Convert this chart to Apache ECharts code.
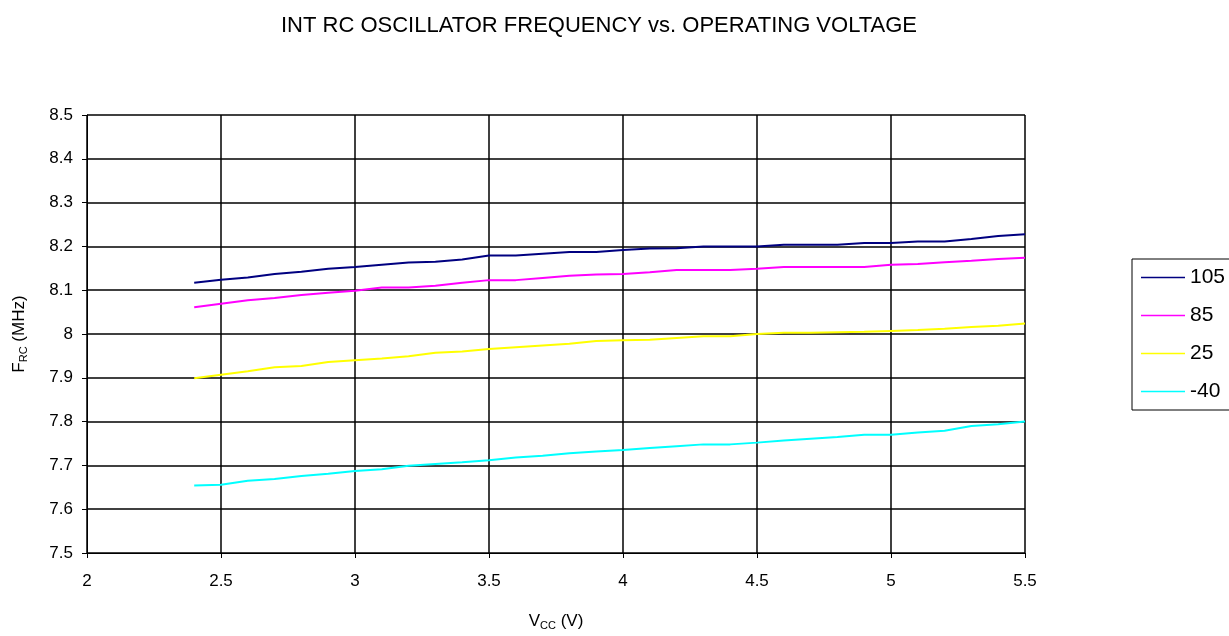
<!DOCTYPE html>
<html>
<head>
<meta charset="utf-8">
<script src="https://cdn.jsdelivr.net/npm/echarts@6/dist/echarts.min.js"></script>
<style>
  html, body { margin: 0; padding: 0; background: #fff; }
  #chart { width: 1229px; height: 636px; }
</style>
</head>
<body>
<div id="chart"></div>
<script>
  // supply voltage (V)
  var vcc = [2.4, 2.5, 2.6, 2.7, 2.8, 2.9, 3.0, 3.1, 3.2, 3.3, 3.4, 3.5, 3.6, 3.7, 3.8, 3.9,
             4.0, 4.1, 4.2, 4.3, 4.4, 4.5, 4.6, 4.7, 4.8, 4.9, 5.0, 5.1, 5.2, 5.3, 5.4, 5.5];
  // frequency (MHz) per temperature
  var f105 = [8.117, 8.124, 8.129, 8.137, 8.142, 8.149, 8.153, 8.158, 8.163, 8.165, 8.170, 8.179,
              8.179, 8.183, 8.187, 8.187, 8.192, 8.195, 8.196, 8.200, 8.200, 8.200, 8.204, 8.204,
              8.204, 8.208, 8.208, 8.211, 8.211, 8.217, 8.224, 8.228];
  var f85 = [8.061, 8.069, 8.077, 8.082, 8.089, 8.094, 8.099, 8.106, 8.106, 8.110, 8.117, 8.123,
             8.123, 8.128, 8.133, 8.136, 8.137, 8.141, 8.146, 8.146, 8.146, 8.149, 8.153, 8.153,
             8.153, 8.153, 8.158, 8.160, 8.164, 8.167, 8.171, 8.174];
  var f25 = [7.899, 7.907, 7.915, 7.924, 7.927, 7.936, 7.940, 7.944, 7.949, 7.957, 7.960, 7.966,
             7.970, 7.974, 7.978, 7.984, 7.986, 7.987, 7.991, 7.995, 7.995, 8.000, 8.003, 8.003,
             8.004, 8.005, 8.007, 8.009, 8.012, 8.016, 8.019, 8.024];
  var fm40 = [7.654, 7.656, 7.665, 7.669, 7.676, 7.681, 7.687, 7.691, 7.699, 7.703, 7.707, 7.712,
              7.718, 7.722, 7.728, 7.732, 7.735, 7.740, 7.744, 7.748, 7.748, 7.752, 7.757, 7.761,
              7.765, 7.770, 7.770, 7.775, 7.779, 7.790, 7.794, 7.800];

  var names = ['105', '85', '25', '-40'];
  var colors = ['#000080', '#FF00FF', '#FFFF00', '#00FFFF'];
  var sets = [f105, f85, f25, fm40];

  function pairs(ys) {
    return vcc.map(function (v, i) { return [v, ys[i]]; });
  }

  var font = 'Liberation Sans, Arial, sans-serif';
  var subRich = {
    a: { fontFamily: font, fontSize: 17, color: '#000' },
    s: { fontFamily: font, fontSize: 11, color: '#000', verticalAlign: 'bottom', padding: [9, 0, 0, 0] }
  };

  var chart = echarts.init(document.getElementById('chart'));
  chart.setOption({
    animation: false,
    color: colors,
    title: {
      text: 'INT RC OSCILLATOR FREQUENCY vs. OPERATING VOLTAGE',
      left: 594,
      textAlign: 'center',
      top: 10,
      textStyle: { fontFamily: font, fontSize: 22, fontWeight: 'normal', color: '#000' }
    },
    legend: {
      orient: 'vertical',
      left: 1132,
      top: 259,
      data: names,
      icon: 'rect',
      itemWidth: 44,
      itemHeight: 1.5,
      itemGap: 17,
      padding: [8, 60, 8, 9],
      borderColor: '#000',
      borderWidth: 1,
      textStyle: { fontFamily: font, fontSize: 21, color: '#000' }
    },
    grid: { left: 87, right: 204, top: 115, bottom: 82 },
    xAxis: {
      type: 'value',
      min: 2,
      max: 5.5,
      interval: 0.5,
      name: '{a|V}{s|CC}{a| (V)}',
      nameLocation: 'middle',
      nameGap: 58,
      nameTextStyle: { rich: subRich },
      axisLine: { lineStyle: { color: '#000', width: 1 } },
      axisTick: { show: true, length: 5, inside: false, lineStyle: { color: '#000' } },
      axisLabel: { fontFamily: font, fontSize: 17, color: '#000', margin: 20 },
      splitLine: { show: true, lineStyle: { color: '#000', width: 1.5 } }
    },
    yAxis: {
      type: 'value',
      min: 7.5,
      max: 8.5,
      interval: 0.1,
      name: '{a|F}{s|RC}{a| (MHz)}',
      nameLocation: 'middle',
      nameGap: 58,
      nameRotate: 90,
      nameTextStyle: { rich: subRich },
      axisLine: { show: true, lineStyle: { color: '#000', width: 1 } },
      axisTick: { show: true, length: 5, inside: false, lineStyle: { color: '#000' } },
      axisLabel: {
        fontFamily: font, fontSize: 17, color: '#000', margin: 14,
        formatter: function (v) { return String(Math.round(v * 10) / 10); }
      },
      splitLine: { show: true, lineStyle: { color: '#000', width: 1.5 } }
    },
    series: sets.map(function (s, i) {
      return {
        name: names[i],
        type: 'line',
        data: pairs(s),
        symbol: 'none',
        lineStyle: { width: 2, color: colors[i] },
        itemStyle: { color: colors[i] }
      };
    })
  });
</script>
</body>
</html>
